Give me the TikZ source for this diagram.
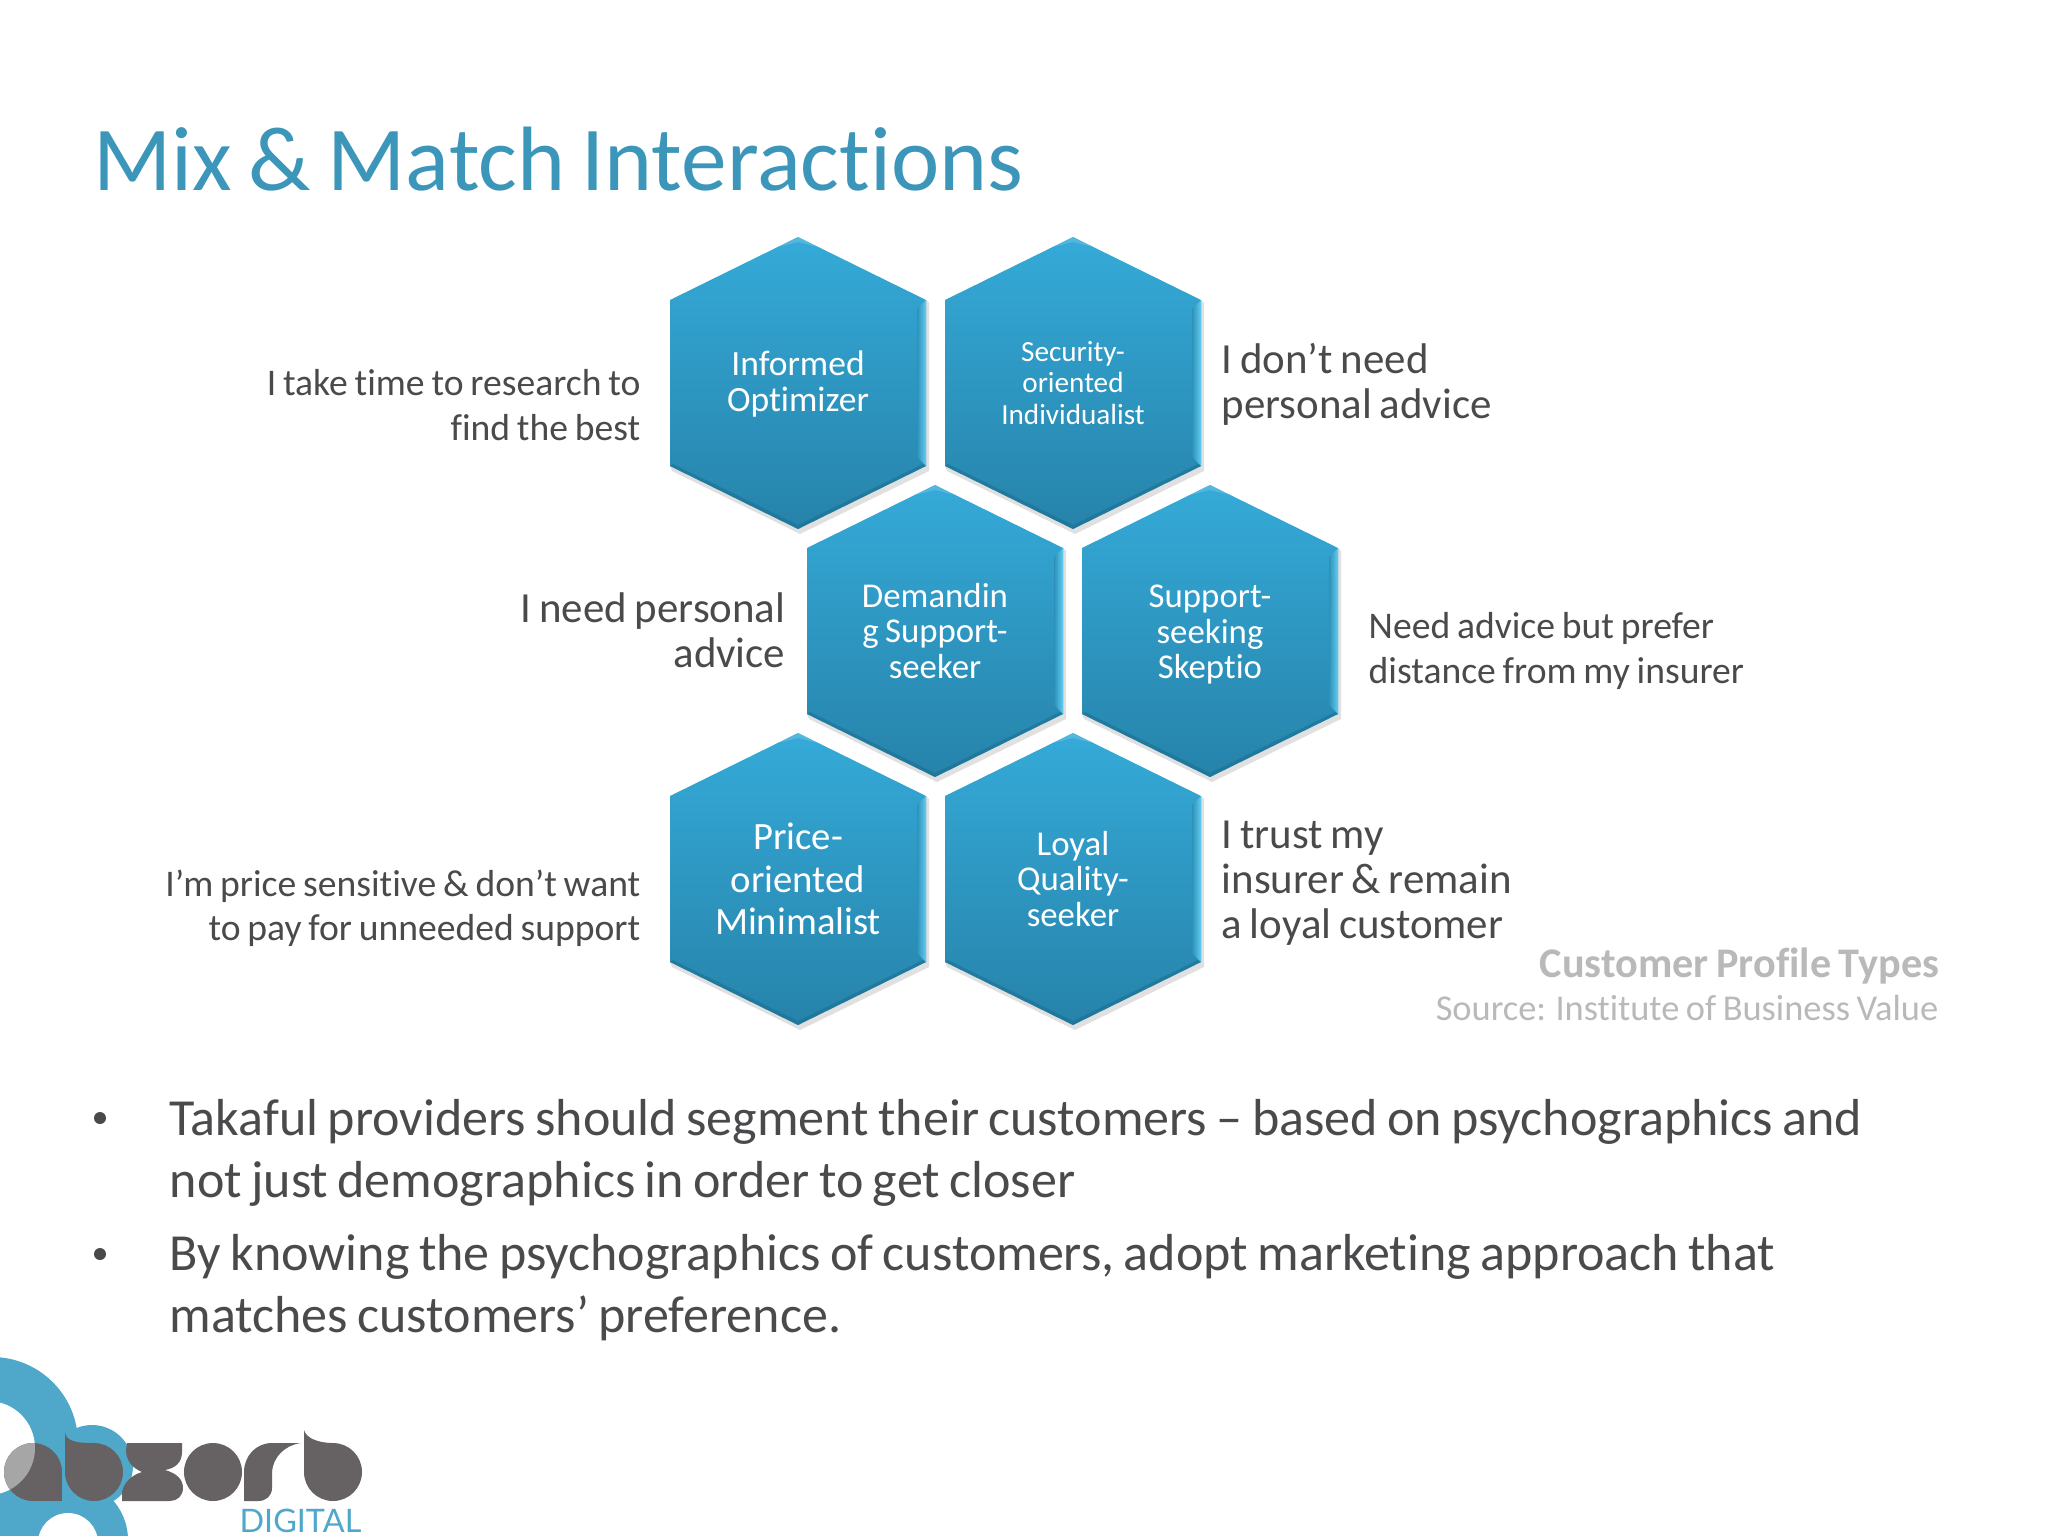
\documentclass[tikz,border=0pt]{standalone}
\usepackage{xcolor}
\usepackage{fontspec}
\setmainfont[Ligatures=NoCommon, WordSpace=0.8]{Carlito}
\newfontfamily\logofont{Lato}
\definecolor{titleblue}{HTML}{3C96BA}
\definecolor{bodygrey}{HTML}{4A4A4C}
\definecolor{notegrey}{HTML}{B9B9B9}
\definecolor{logoblue}{HTML}{4FA8CA}
\definecolor{logogrey}{HTML}{666263}
\definecolor{hextop}{HTML}{35AAD8}
\definecolor{hexbottom}{HTML}{2683AA}
\definecolor{hexedge}{HTML}{62CDF2}
\definecolor{hexdark}{HTML}{1C6E90}
% one hexagon, its label is the named node
\newcommand{\hexcell}[5][0pt]{%
    \begin{scope}[shift={#3}]
        \fill[black, opacity=0.12] (-126,88) -- (2,151) -- (131,88) -- (131,-80) -- (128,-83) -- (128,83) -- (0,146) -- (-128,83) -- cycle;
        \path[top color=hextop, bottom color=hexbottom] (0,-146) -- (128,-83) -- (128,83) -- (0,146) -- (-128,83) -- (-128,-83) -- cycle;
        \path[left color=hextop!85!black, right color=hexedge] (128,-83) -- (128,83) -- (119,74) -- (119,-74) -- cycle;
        \fill[hexdark, opacity=0.55] (-128,83) -- (0,146) -- (128,83) -- (125,81) -- (0,142) -- (-125,81) -- cycle;
        \fill[hextop!70!white, opacity=0.5] (-20,-136) -- (0,-146) -- (20,-136) -- (0,-141) -- cycle;
    \end{scope}
    \node[hexlabel, font=#4, yshift=#1] (#2) at #3 {#5};
}
\begin{document}
\begin{tikzpicture}[x=0.01cm, y=-0.01cm,
    hexlabel/.style={text=white, align=center, inner sep=0pt},
    leftnote/.style={anchor=east, align=right, text=bodygrey, inner sep=0pt},
    rightnote/.style={anchor=west, align=left, text=bodygrey, inner sep=0pt},
    smallfont/.style={font=\fontsize{10.7}{12.6}\selectfont},
    bigfont/.style={font=\fontsize{12.2}{12.8}\selectfont},
    bullettext/.style={anchor=north west, align=left, text=bodygrey, inner sep=0pt, font=\fontsize{14.8}{17.4}\selectfont}
]
    \useasboundingbox (0,0) rectangle (2048,1536);
    \fill[white] (0,0) rectangle (2048,1536);

    \node[anchor=base west, inner sep=0pt, text=titleblue, font=\fontsize{26}{30}\selectfont] (title) at (93,190) {Mix \& Match Interactions};

    \hexcell[-0.4pt]{informed}{(798,383)}{\fontsize{10.1}{10.2}\selectfont}{Informed\\Optimizer}
    \hexcell{security}{(1073,383)}{\fontsize{8.3}{8.9}\selectfont}{Security-\\oriented\\Individualist}
    \hexcell{demanding}{(935,631)}{\fontsize{9.9}{10}\selectfont}{Demandin\\g Support-\\seeker}
    \hexcell[-1pt]{seeking}{(1210,631)}{\fontsize{9.9}{10}\selectfont}{Support-\\seeking\\Skeptio}
    \hexcell{price}{(798,879)}{\fontsize{11}{12}\selectfont}{Price-\\oriented\\Minimalist}
    \hexcell{loyal}{(1073,879)}{\fontsize{9.9}{10}\selectfont}{Loyal\\Quality-\\seeker}

    \node[leftnote, smallfont] (researchnote) at (641,405) {I take time to research to\\find the best};
    \node[rightnote, bigfont] (advicenote) at (1221,384) {I don’t need\\personal advice};
    \node[leftnote, bigfont] (personalnote) at (786,630) {I need personal\\advice};
    \node[rightnote, smallfont] (distancenote) at (1368,651) {Need advice but prefer\\distance from my insurer};
    \node[leftnote, smallfont] (pricenote) at (641,908) {I’m price sensitive \& don’t want\\to pay for unneeded support};
    \node[rightnote, bigfont] (trustnote) at (1221,883) {I trust my\\insurer \& remain\\a loyal customer};

    \node[anchor=east, inner sep=0pt, text=notegrey, font=\bfseries\fontsize{12}{14}\selectfont] (profiles) at (1940,966) {Customer Profile Types};
    \node[anchor=east, inner sep=0pt, text=notegrey, font=\fontsize{10.35}{12}\selectfont] (source) at (1939,1008) {Source: Institute of Business Value};

    \node[bullettext] (firstpoint) at (169,1099) {Takaful providers should segment their customers – based on psychographics and\\not just demographics in order to get closer};
    \node[bullettext] (secondpoint) at (169,1234) {By knowing the psychographics of customers, adopt marketing approach that\\matches customers’ preference.};
    \fill[bodygrey] (100,1118) circle (6);
    \fill[bodygrey] (100,1254) circle (6);

    % logo
    \fill[logoblue] (-8,1443) circle (86);
    \fill[logoblue] (92,1466) circle (41);
    \fill[logoblue] (68,1540) circle (60);
    \fill[logoblue] (0,1480) rectangle (90,1536);
    \fill[white] (-12,1448) circle (47);
    \fill[white] (68,1543) circle (30);
    \fill[logogrey] (33,1472) circle (29);
    \fill[logogrey] (33,1472) rectangle (62,1501);
    \begin{scope}
        \clip (-12,1448) circle (47);
        \fill[black!35] (33,1472) circle (29);
    \end{scope}
    \fill[logogrey] (65,1432) .. controls (66,1442) and (78,1443) .. (94,1443) -- (94,1472) -- (65,1472) -- cycle;
    \fill[logogrey] (94,1472) circle (29);
    \fill[logogrey] (127,1443) -- (182,1443) -- (182,1452) .. controls (182,1462) and (176,1468) .. (165,1470) .. controls (176,1473) and (183,1479) .. (183,1488) .. controls (183,1496) and (177,1501) .. (170,1501) -- (122,1501) -- (122,1492) .. controls (124,1482) and (132,1475) .. (142,1472) .. controls (132,1468) and (126,1460) .. (126,1450) -- cycle;
    \fill[logogrey] (213,1472) circle (29);
    \fill[logogrey] (272,1443) -- (301,1443) .. controls (285,1445) and (273,1457) .. (272,1472) -- (272,1488) .. controls (272,1496) and (266,1501) .. (258,1501) -- (244,1501) -- (244,1472) .. controls (244,1456) and (256,1443) .. (272,1443) -- cycle;
    \fill[logogrey] (304,1430) .. controls (306,1438) and (318,1443) .. (333,1443) -- (333,1472) -- (304,1472) -- cycle;
    \fill[logogrey] (333,1472) circle (29);
    \node[anchor=base east, inner sep=0pt, text=logoblue, font=\logofont\fontsize{9.2}{12}\selectfont] (digital) at (362,1532) {DIGITAL};
\end{tikzpicture}
\end{document}
